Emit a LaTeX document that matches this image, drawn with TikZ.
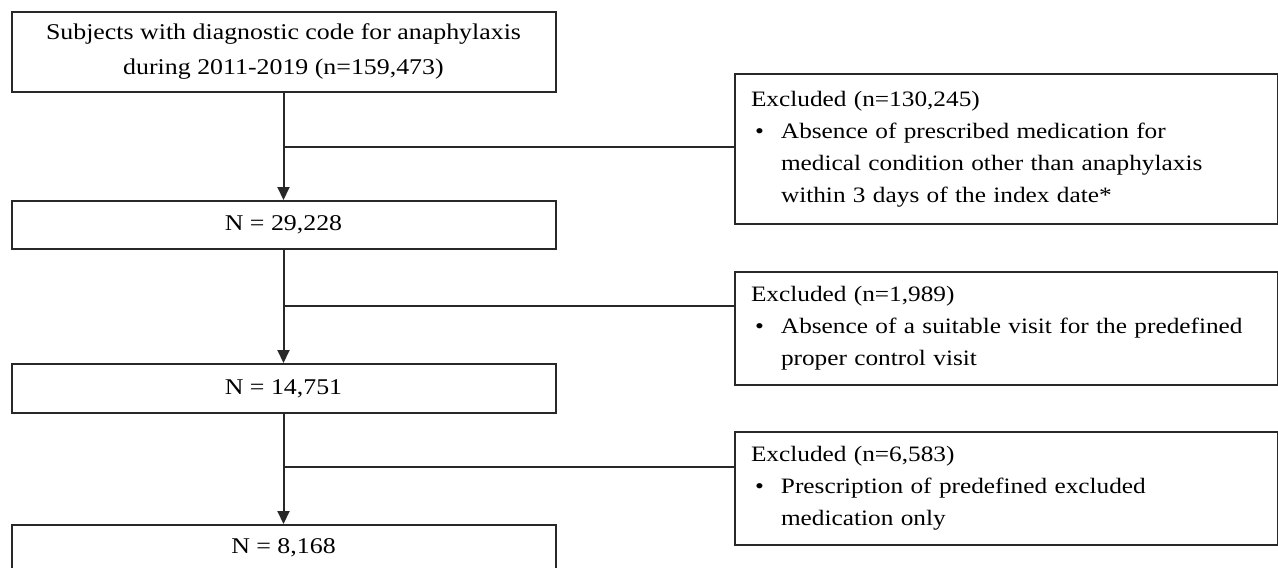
\documentclass[tikz,border=0pt]{standalone}
\usepackage{fontspec}
\setmainfont{Liberation Serif}[FakeStretch=1.15]
\usetikzlibrary{arrows.meta}
\definecolor{lc}{RGB}{40,40,40}
\hyphenpenalty=10000
\begin{document}
\begin{tikzpicture}[x=1pt,y=-1pt,
  lbox/.style={draw=lc, line width=2pt, minimum width=544pt, inner sep=0pt, align=center, font=\fontsize{22.5}{35}\selectfont},
  rbox/.style={draw=lc, line width=2pt, minimum width=543pt, text width=517pt, inner xsep=13pt, inner ysep=0pt, align=left, anchor=north west, font=\fontsize{22}{32}\selectfont},
  conn/.style={draw=lc, line width=2pt},
  arr/.style={conn, -{Triangle[length=13pt,width=12pt]}}
]
\useasboundingbox (0,0) rectangle (1278,568);
\fill[white] (0,0) rectangle (1278,568);
\newcommand{\bul}{\hspace*{7pt}\makebox[26pt][l]{\textbullet}}
\newcommand{\ind}{\hspace*{33pt}}

\node[lbox, minimum height=80pt] (b1) at (283.5,52) {Subjects with diagnostic code for anaphylaxis\\during 2011-2019 (n=159,473)};
\node[lbox, minimum height=48pt] (b2) at (283.5,225) {N = 29,228};
\node[lbox, minimum height=49pt] (b3) at (283.5,388.5) {N = 14,751};
\node[lbox, minimum height=45pt] (b4) at (283.5,547.5) {N = 8,168};

\node[rbox, minimum height=150pt] (e1) at (734,73) {\hspace*{3pt}Excluded (n=130,245)\\
\bul Absence of prescribed medication for\\
\ind medical condition other than anaphylaxis\\
\ind within 3 days of the index date*};
\node[rbox, minimum height=113pt] (e2) at (734,271) {\hspace*{3pt}Excluded (n=1,989)\\
\bul Absence of a suitable visit for the predefined\\
\ind proper control visit};
\node[rbox, minimum height=113pt] (e3) at (734,431) {\hspace*{3pt}Excluded (n=6,583)\\
\bul Prescription of predefined excluded\\
\ind medication only};

\draw[arr] (b1.south) -- (b2.north);
\draw[arr] (b2.south) -- (b3.north);
\draw[arr] (b3.south) -- (b4.north);

\coordinate (j1) at (283.5,147);
\coordinate (j2) at (283.5,306);
\coordinate (j3) at (283.5,467);
\draw[conn] (j1) -- (j1 -| e1.west);
\draw[conn] (j2) -- (j2 -| e2.west);
\draw[conn] (j3) -- (j3 -| e3.west);
\end{tikzpicture}
\end{document}
